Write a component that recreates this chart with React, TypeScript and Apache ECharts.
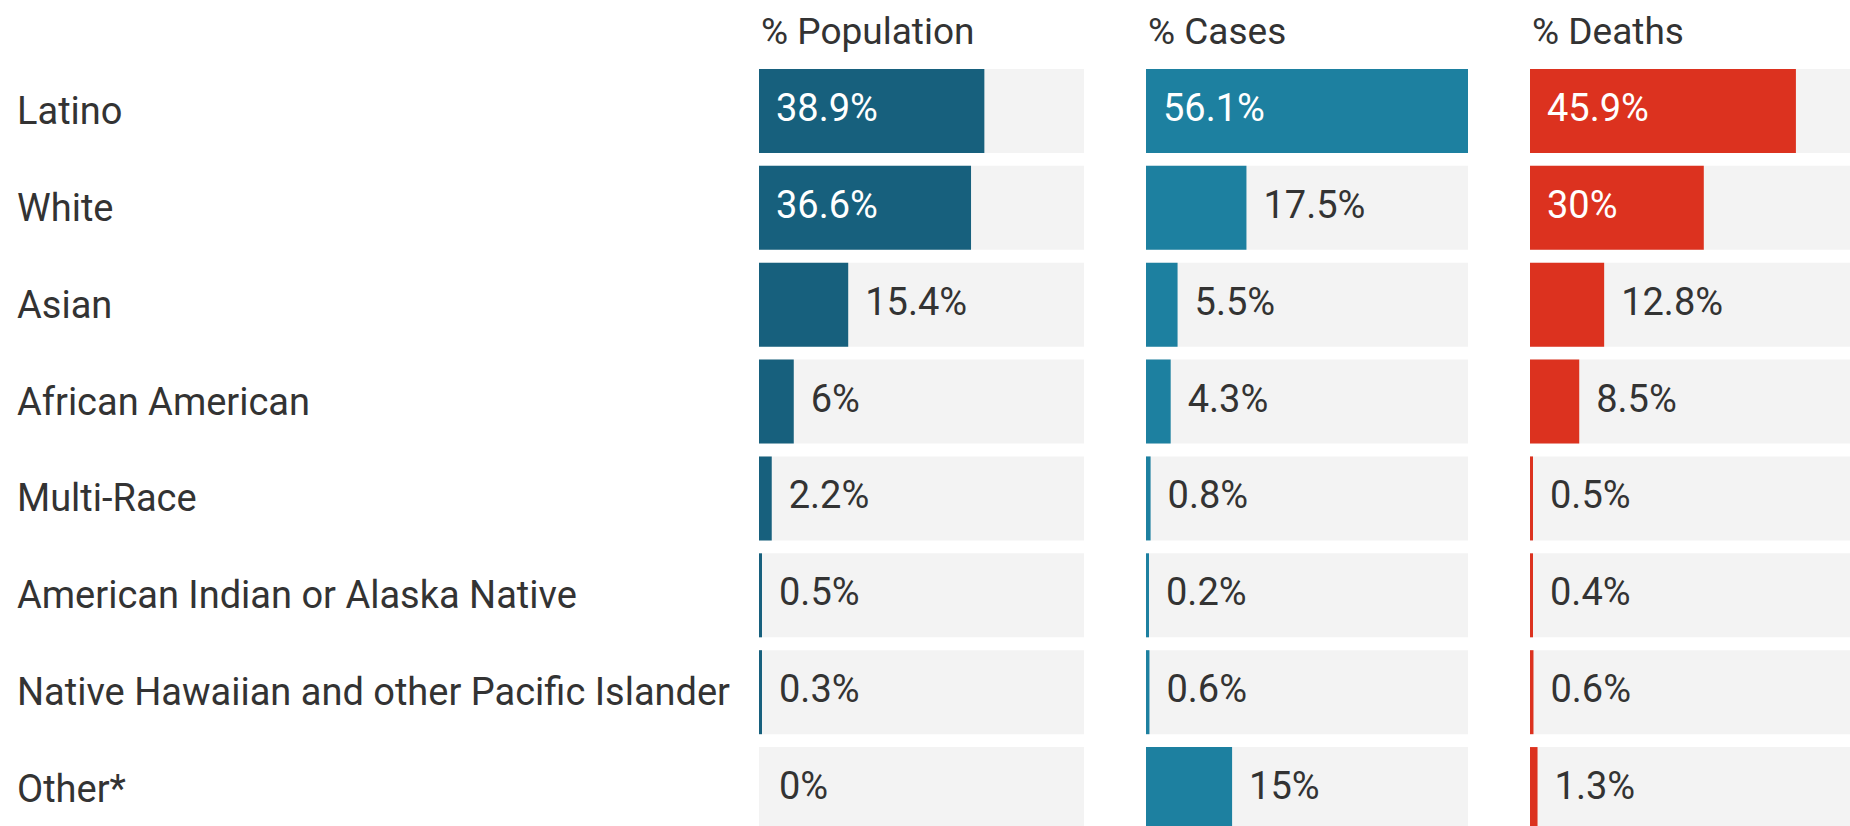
import React, { useEffect, useRef } from "react";
import * as echarts from "echarts";

const categories = [
  "Latino",
  "White",
  "Asian",
  "African American",
  "Multi-Race",
  "American Indian or Alaska Native",
  "Native Hawaiian and other Pacific Islander",
  "Other*",
];
const columnTitles = ["% Population", "% Cases", "% Deaths"];
const populationPct = [38.9, 36.6, 15.4, 6, 2.2, 0.5, 0.3, 0];
const casesPct = [56.1, 17.5, 5.5, 4.3, 0.8, 0.2, 0.6, 15];
const deathsPct = [45.9, 30, 12.8, 8.5, 0.5, 0.4, 0.6, 1.3];

const seriesData = [populationPct, casesPct, deathsPct];
const colors = ["#17607d", "#1d80a0", "#dc321f"];
const FONT = "Roboto";
const TEXT = "#333333";

export default function App() {
  const ref = useRef<HTMLDivElement>(null);
  useEffect(() => {
    if (!ref.current) return;
    const chart = echarts.init(ref.current, null, { renderer: "svg" });
    const maxVal = Math.max(...populationPct, ...casesPct, ...deathsPct);
    const gridDefs = [
      { left: 759, width: 325 },
      { left: 1146, width: 322 },
      { left: 1530, width: 325 },
    ];
    const top = 62.5;
    const height = 775;
    const option: any = {
      animation: false,
      backgroundColor: "#ffffff",
      grid: gridDefs.map((g) => ({
        left: g.left,
        width: g.width,
        top,
        height,
        containLabel: false,
        outerBoundsMode: "none",
      })),
      xAxis: gridDefs.map((_, i) => ({
        type: "value",
        gridIndex: i,
        min: 0,
        max: maxVal,
        show: false,
      })),
      yAxis: gridDefs.map((_, i) => ({
        type: "category",
        gridIndex: i,
        data: categories,
        inverse: true,
        axisLine: { show: false },
        axisTick: { show: false },
        splitLine: { show: false },
        axisLabel: {
          show: i === 0,
          align: "left",
          margin: 742,
          fontFamily: FONT,
          fontSize: 38,
          color: TEXT,
        },
      })),
      graphic: columnTitles.map((t, i) => ({
        type: "text",
        x: gridDefs[i].left + 2,
        y: 31,
        style: {
          text: t,
          font: `37px ${FONT}`,
          fill: TEXT,
          verticalAlign: "middle",
          align: "left",
        },
      })),
      series: seriesData.map((vals, i) => ({
        type: "bar",
        name: columnTitles[i],
        xAxisIndex: i,
        yAxisIndex: i,
        barWidth: 84,
        barMinHeight: 3,
        showBackground: true,
        backgroundStyle: { color: "#f3f3f3" },
        itemStyle: { color: colors[i] },
        data: vals.map((v) => {
          const inside = v >= 20;
          return {
            value: v,
            itemStyle: v === 0 ? { color: "rgba(0,0,0,0)" } : undefined,
            label: {
              show: true,
              position: inside ? "insideLeft" : "right",
              distance: 17,
              offset: [0, -3],
              color: inside ? "#ffffff" : TEXT,
              fontFamily: FONT,
              fontSize: 38,
              formatter: () => `${v}%`,
            },
          };
        }),
      })),
    };
    chart.setOption(option);
    return () => chart.dispose();
  }, []);
  return (
    <div
      ref={ref}
      style={{ position: "fixed", left: 0, top: 0, width: 1850, height: 826, background: "#fff" }}
    />
  );
}
